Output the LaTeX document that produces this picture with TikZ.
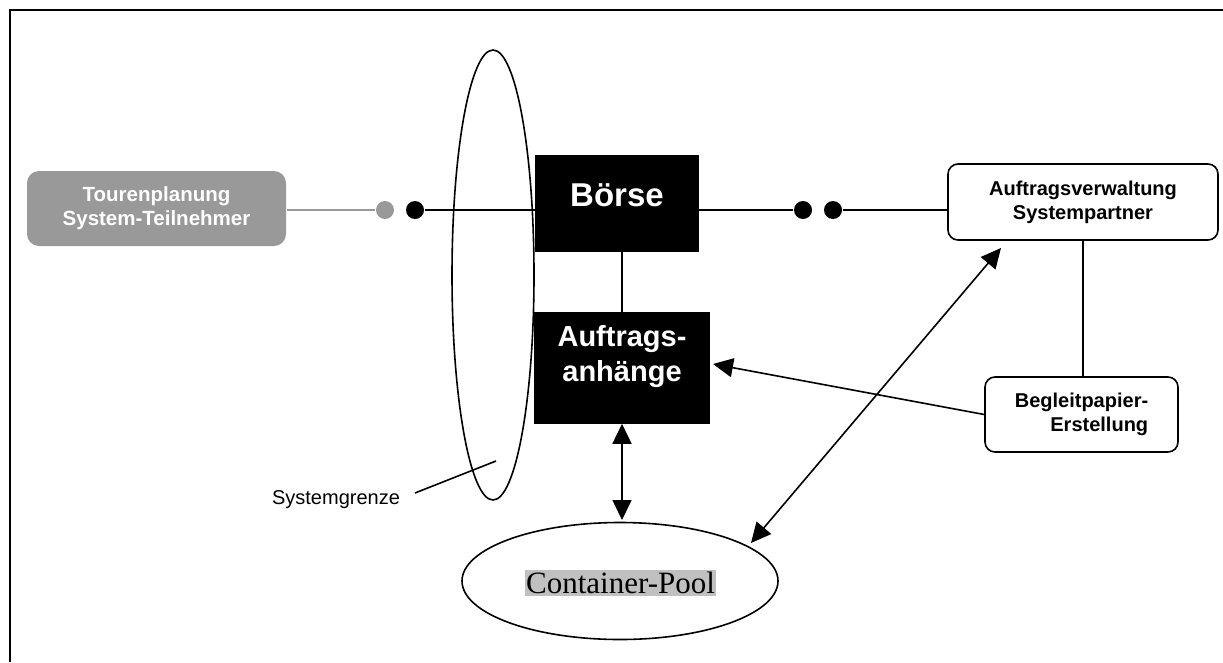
\documentclass[tikz,border=0pt]{standalone}
\usepackage{fontspec}
\setmainfont{Liberation Sans}
\newfontfamily\poolserif{Liberation Serif}
\usetikzlibrary{arrows.meta,shapes.geometric}
\definecolor{tpgrey}{HTML}{999999}
\definecolor{hlgrey}{HTML}{C0C0C0}
\begin{document}
\begin{tikzpicture}[x=1pt,y=-1pt,line width=1.6pt,
  darkbox/.style={rectangle,fill=black,draw=black,inner sep=0pt,text=white},
  whitebox/.style={rectangle,rounded corners=10pt,draw=black,fill=white,
    align=center,inner sep=0pt,font=\fontsize{20}{24}\selectfont\bfseries},
  greybox/.style={rectangle,rounded corners=12pt,fill=tpgrey,text=white,
    align=center,inner sep=0pt,font=\fontsize{20.5}{24}\selectfont\bfseries},
  dot/.style={circle,fill=black,inner sep=0pt,minimum size=18pt},
  oval/.style={draw,ellipse,inner sep=0pt},
  tip/.style={-{Triangle[length=20pt,width=19pt]}},
  bothtips/.style={{Triangle[length=20pt,width=19pt]}-{Triangle[length=20pt,width=19pt]}}
]
\useasboundingbox (0,0) rectangle (1223,662);

% page frame
\draw[line width=2.4pt] (10,662) -- (10,10) -- (1223,10);

% system boundary
\node[oval,minimum width=82pt,minimum height=450pt] (sg) at (493,275) {};
\node[font=\fontsize{20}{24}\selectfont] (sglabel) at (336,500) {Systemgrenze};
\coordinate (sgfrom) at (415,493);
\coordinate (sgto) at (496,461);
\draw (sgfrom) -- (sgto);

% participant tour planning
\node[greybox,minimum width=259pt,minimum height=75pt] (tp) at (156.5,208.5)
  {Tourenplanung\\System-Teilnehmer};
\node[dot,fill=tpgrey] (gdot) at (385,210) {};
\node[dot] (bdot) at (415,210) {};
\draw[tpgrey] (tp.east |- gdot) -- (gdot);

% exchange
\node[darkbox,font=\fontsize{33}{40}\selectfont\bfseries,minimum width=162pt,
  text height=50pt,text depth=45pt] (boerse) at (617,203.5) {Börse};
\draw (bdot) -- (bdot -| boerse.west);

\node[dot] (rdot1) at (803,210) {};
\node[dot] (rdot2) at (833,210) {};
\draw (boerse.east |- rdot1) -- (rdot1);

% partner order management
\node[whitebox,minimum width=270pt,minimum height=76pt] (av) at (1083,202)
  {Auftragsverwaltung\\Systempartner};
\draw (rdot2) -- (rdot2 -| av.west);

% order attachments
\node[darkbox,minimum width=174pt,minimum height=110pt] (aa) at (622,368) {};
\node[text=white,align=center,inner sep=0pt,
  font=\fontsize{29}{35}\selectfont\bfseries] (aatext) at (622,357)
  {Auftrags-\\anhänge};
\draw (aa.north |- boerse.south) -- (aa.north);

% accompanying documents
\node[whitebox,align=right,minimum width=193pt,minimum height=75pt] (bp)
  at (1081.5,414.5) {Begleitpapier-\\Erstellung};
\draw (av.south) -- (av.south |- bp.north);

% container pool
\node[oval,minimum width=316pt,minimum height=117pt] (pool) at (620,581) {};
\node[fill=hlgrey,inner xsep=1pt,inner ysep=2pt,
  font=\poolserif\fontsize{31}{36}\selectfont] (pooltext) at (620.5,583)
  {Container-Pool};

% connectors with arrows
\coordinate (aain) at (713,364);
\draw[tip] (bp.west) -- (aain);
\coordinate (poolin) at (751,543);
\coordinate (avin) at (1001,248);
\draw[bothtips] (poolin) -- (avin);
\coordinate (pooltop) at (622,520);
\draw[bothtips] (aa.south) -- (pooltop);
\end{tikzpicture}
\end{document}
